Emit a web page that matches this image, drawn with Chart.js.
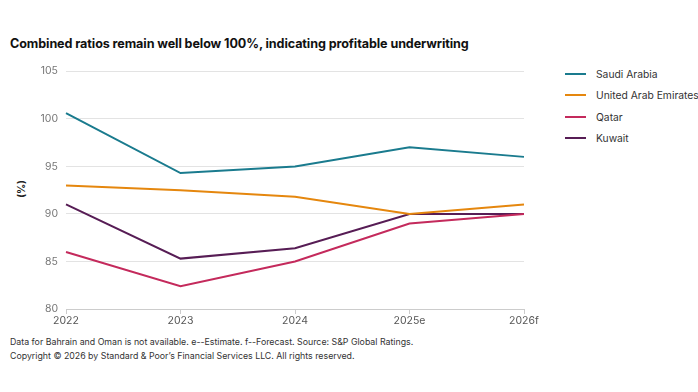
<!DOCTYPE html>
<html>
<head>
<meta charset="utf-8">
<script src="https://cdn.jsdelivr.net/npm/chart.js@4"></script>
<style>
  html, body { margin: 0; padding: 0; background: #fff; }
  body { width: 698px; height: 392px; position: relative; overflow: hidden; font-family: Inter, "Open Sans", sans-serif; }
  #title { position: absolute; left: 10px; top: 36px; font-size: 12.6px; font-weight: 700; color: #111; letter-spacing: -0.1px; white-space: nowrap; }
  #yTitle { position: absolute; left: 12px; top: 183px; font-size: 10px; font-weight: 700; color: #222; transform: rotate(-90deg); transform-origin: center; }
  #wrap { position: absolute; left: 0; top: 57px; width: 540px; height: 274px; }
  #legend { position: absolute; left: 565px; top: 63px; font-size: 10.3px; color: #333; white-space: nowrap; }
  .item { display: flex; align-items: center; height: 21.5px; }
  .swatch { width: 21px; height: 2px; margin-right: 10px; }
  #notes { position: absolute; left: 10px; top: 335px; font-size: 8.8px; color: #333; line-height: 14px; white-space: nowrap; }
</style>
</head>
<body>
<div id="title">Combined ratios remain well below 100%, indicating profitable underwriting</div>
<div id="yTitle">(%)</div>
<div id="wrap"><canvas id="chart"></canvas></div>
<div id="legend"></div>
<div id="notes">
  Data for Bahrain and Oman is not available. e--Estimate. f--Forecast. Source: S&amp;P Global Ratings.<br>
  Copyright © 2026 by Standard &amp; Poor’s Financial Services LLC. All rights reserved.
</div>
<script>
// ===== data =====
const years = ['2022', '2023', '2024', '2025e', '2026f'];
const seriesNames = ['Saudi Arabia', 'United Arab Emirates', 'Qatar', 'Kuwait'];
const saudiArabia = [100.6, 94.3, 95.0, 97.0, 96.0];
const uae = [93.0, 92.5, 91.8, 90.0, 91.0];
const qatar = [86.0, 82.4, 85.0, 89.0, 90.0];
const kuwait = [91.0, 85.3, 86.4, 90.0, 90.0];
const seriesColors = ['#1a7b8e', '#e5870e', '#c42a5c', '#571d55'];

const seriesValues = [saudiArabia, uae, qatar, kuwait];

// legend in html
const legendEl = document.getElementById('legend');
seriesNames.forEach((name, i) => {
  legendEl.innerHTML += `<div class="item"><span class="swatch" style="background:${seriesColors[i]}"></span>${name}</div>`;
});

const ctx = document.getElementById('chart').getContext('2d');
new Chart(ctx, {
  type: 'line',
  data: {
    labels: years,
    datasets: seriesNames.map((name, i) => ({
      label: name,
      data: seriesValues[i],
      borderColor: seriesColors[i],
      backgroundColor: seriesColors[i],
      borderWidth: 2,
      pointRadius: 0,
      tension: 0
    }))
  },
  options: {
    responsive: true,
    maintainAspectRatio: false,
    animation: false,
    layout: { padding: { top: 6, right: 16, left: 0, bottom: 0 } },
    plugins: {
      legend: { display: false },
      tooltip: { enabled: false }
    },
    scales: {
      x: {
        offset: false,
        grid: { display: true, drawOnChartArea: false, drawTicks: true, tickLength: 5, color: '#ccc' },
        border: { display: true, color: '#ccc' },
        ticks: { color: '#555', font: { family: 'Inter', size: 10.5 }, padding: 1, maxRotation: 0 },
        afterFit: (scale) => { scale.height = 22; }
      },
      y: {
        min: 80,
        max: 105,
        ticks: { stepSize: 5, color: '#777', font: { family: 'Inter', size: 10.5 }, padding: 8 },
        grid: { color: '#e3e3e3', drawTicks: false },
        border: { display: false },
        afterFit: (scale) => { scale.width = 66; }
      }
    }
  }
});
</script>
</body>
</html>
